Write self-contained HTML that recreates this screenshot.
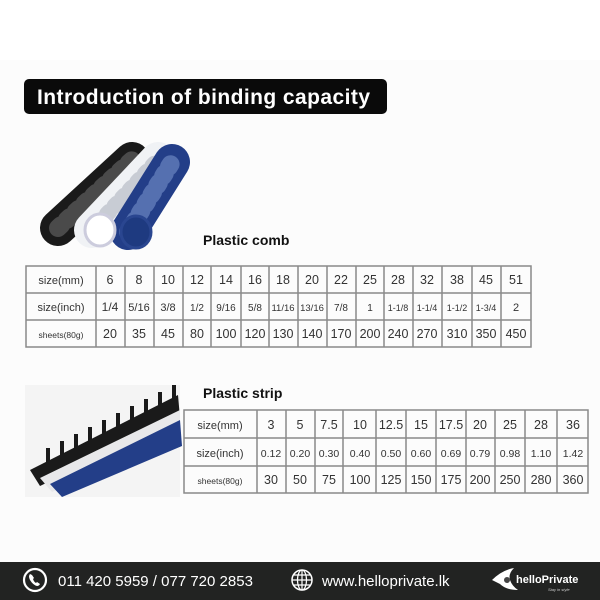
<!DOCTYPE html>
<html><head><meta charset="utf-8"><style>
html,body{margin:0;padding:0;width:600px;height:600px;overflow:hidden;background:#fcfcfc}
svg{display:block}
text{font-family:"Liberation Sans",sans-serif}
</style></head><body>
<svg width="600" height="600" viewBox="0 0 600 600">
<rect x="0" y="0" width="600" height="60" fill="#fff"/>
<rect x="0" y="60" width="600" height="502" fill="#fcfcfc"/>
<!-- banner -->
<rect x="24" y="79" width="363" height="35" rx="5" fill="#0a0a0a"/>
<text x="37" y="104" font-size="21" font-weight="bold" fill="#fff" textLength="333">Introduction of binding capacity</text>

<!-- comb picture -->
<g stroke-linecap="round">
<line x1="58" y1="228" x2="132" y2="160" stroke="#1a1a1a" stroke-width="36"/>
<line x1="58" y1="228" x2="132" y2="160" stroke="#4a4a4a" stroke-width="18" stroke-dasharray="4 8"/>
<line x1="92" y1="230" x2="158" y2="160" stroke="#f0f2f5" stroke-width="36"/>
<line x1="92" y1="230" x2="158" y2="160" stroke="#c8ccd4" stroke-width="16" stroke-dasharray="3 8"/>
<line x1="128" y1="232" x2="172" y2="162" stroke="#233e88" stroke-width="36"/>
<line x1="128" y1="232" x2="172" y2="162" stroke="#5570b0" stroke-width="18" stroke-dasharray="3 8"/>
</g>
<ellipse cx="100" cy="230" rx="15" ry="16" fill="#fff" stroke="#ccd" stroke-width="3"/>
<ellipse cx="136" cy="232" rx="15" ry="16" fill="#1e3a80" stroke="#2a4690" stroke-width="3"/>
<text x="203" y="245" font-size="14" font-weight="bold" fill="#111">Plastic comb</text>

<!-- table 1 -->
<g stroke="#8a8a8a" stroke-width="1.5" fill="none">
<rect x="26" y="266" width="505" height="81"/>
<line x1="26" y1="293" x2="531" y2="293"/><line x1="26" y1="320" x2="531" y2="320"/>
<path d="M96 266V347M125 266V347M154 266V347M183 266V347M211 266V347M241 266V347M269 266V347M298 266V347M327 266V347M356 266V347M384 266V347M413 266V347M442 266V347M472 266V347M501 266V347"/>
</g>
<g fill="#333" text-anchor="middle">
<text x="61" y="284" font-size="11">size(mm)</text>
<text x="61" y="311" font-size="11">size(inch)</text>
<text x="61" y="338" font-size="8.5">sheets(80g)</text>
<g font-size="12.5">
<text x="110" y="284">6</text><text x="139" y="284">8</text><text x="168" y="284">10</text><text x="197" y="284">12</text><text x="226" y="284">14</text><text x="255" y="284">16</text><text x="283" y="284">18</text><text x="312" y="284">20</text><text x="341" y="284">22</text><text x="370" y="284">25</text><text x="398" y="284">28</text><text x="427" y="284">32</text><text x="457" y="284">38</text><text x="486" y="284">45</text><text x="516" y="284">51</text>
<text x="110" y="338">20</text><text x="139" y="338">35</text><text x="168" y="338">45</text><text x="197" y="338">80</text><text x="226" y="338">100</text><text x="255" y="338">120</text><text x="283" y="338">130</text><text x="312" y="338">140</text><text x="341" y="338">170</text><text x="370" y="338">200</text><text x="398" y="338">240</text><text x="427" y="338">270</text><text x="457" y="338">310</text><text x="486" y="338">350</text><text x="516" y="338">450</text>
</g>
<g font-size="10">
<text x="110" y="311" font-size="12">1/4</text><text x="139" y="311" font-size="11">5/16</text><text x="168" y="311" font-size="11">3/8</text><text x="197" y="311">1/2</text><text x="226" y="311">9/16</text><text x="255" y="311">5/8</text><text x="283" y="311" font-size="9.5">11/16</text><text x="312" y="311" font-size="9.5">13/16</text><text x="341" y="311">7/8</text><text x="370" y="311">1</text><text x="398" y="311" font-size="9">1-1/8</text><text x="427" y="311" font-size="9">1-1/4</text><text x="457" y="311" font-size="9">1-1/2</text><text x="486" y="311" font-size="9">1-3/4</text><text x="516" y="311" font-size="11">2</text>
</g>
</g>

<!-- strip picture -->
<rect x="25" y="385" width="155" height="112" fill="#f4f4f4"/>
<polygon points="30,470 178,395 180,418 40,486" fill="#1a1a1a"/>
<polygon points="40,478 180,410 180,432 52,492" fill="#e8e8ea"/>
<polygon points="50,484 180,420 182,446 62,497" fill="#233e88"/>
<g stroke="#1a1a1a" stroke-width="4">
<path d="M48 462v-14M62 455v-14M76 448v-14M90 441v-14M104 434v-14M118 427v-14M132 420v-14M146 413v-14M160 406v-14M174 399v-14"/>
</g>
<text x="203" y="398" font-size="14" font-weight="bold" fill="#111">Plastic strip</text>

<!-- table 2 -->
<g stroke="#8a8a8a" stroke-width="1.5" fill="none">
<rect x="184" y="410" width="404" height="83"/>
<line x1="184" y1="438" x2="588" y2="438"/><line x1="184" y1="466" x2="588" y2="466"/>
<path d="M257 410V493M286 410V493M315 410V493M343 410V493M376 410V493M406 410V493M436 410V493M466 410V493M495 410V493M525 410V493M557 410V493"/>
</g>
<g fill="#333" text-anchor="middle">
<text x="220" y="429" font-size="11">size(mm)</text>
<text x="220" y="457" font-size="11">size(inch)</text>
<text x="220" y="484" font-size="8.5">sheets(80g)</text>
<g font-size="12.5">
<text x="271" y="429">3</text><text x="300" y="429">5</text><text x="329" y="429">7.5</text><text x="360" y="429">10</text><text x="391" y="429">12.5</text><text x="421" y="429">15</text><text x="451" y="429">17.5</text><text x="480" y="429">20</text><text x="510" y="429">25</text><text x="541" y="429">28</text><text x="573" y="429">36</text>
<text x="271" y="484">30</text><text x="300" y="484">50</text><text x="329" y="484">75</text><text x="360" y="484">100</text><text x="391" y="484">125</text><text x="421" y="484">150</text><text x="451" y="484">175</text><text x="480" y="484">200</text><text x="510" y="484">250</text><text x="541" y="484">280</text><text x="573" y="484">360</text>
</g>
<g font-size="10.5">
<text x="271" y="457">0.12</text><text x="300" y="457">0.20</text><text x="329" y="457">0.30</text><text x="360" y="457">0.40</text><text x="391" y="457">0.50</text><text x="421" y="457">0.60</text><text x="451" y="457">0.69</text><text x="480" y="457">0.79</text><text x="510" y="457">0.98</text><text x="541" y="457">1.10</text><text x="573" y="457">1.42</text>
</g>
</g>

<!-- footer -->
<rect x="0" y="562" width="600" height="38" fill="#222322"/>
<circle cx="35" cy="580" r="11" fill="none" stroke="#fff" stroke-width="2.2"/>
<path d="M30 574q-2 2 0 6q3 5 7 6q2 0 3-2l-3-2-1 1q-2-1-3-4l1-1-2-3z" fill="#fff"/>
<text x="58" y="586" font-size="15" fill="#fff">011 420 5959 / 077 720 2853</text>
<circle cx="302" cy="580" r="10" fill="none" stroke="#fff" stroke-width="1.5"/>
<ellipse cx="302" cy="580" rx="4.5" ry="10" fill="none" stroke="#fff" stroke-width="1.2"/>
<path d="M292 580h20M294 575h16M294 585h16M302 570v20" stroke="#fff" stroke-width="1.2"/>
<text x="322" y="586" font-size="15" fill="#fff">www.helloprivate.lk</text>
<path d="M492 580q10-10 22-12q-6 6-4 12q2 6 8 10q-12 0-18-6z" fill="#fff"/>
<circle cx="507" cy="580" r="3" fill="#444"/>
<text x="516" y="583" font-size="11" font-weight="bold" fill="#fff">helloPrivate</text>
<text x="548" y="591" font-size="4" font-style="italic" fill="#ccc">Stay in style</text>
</svg>
</body></html>
